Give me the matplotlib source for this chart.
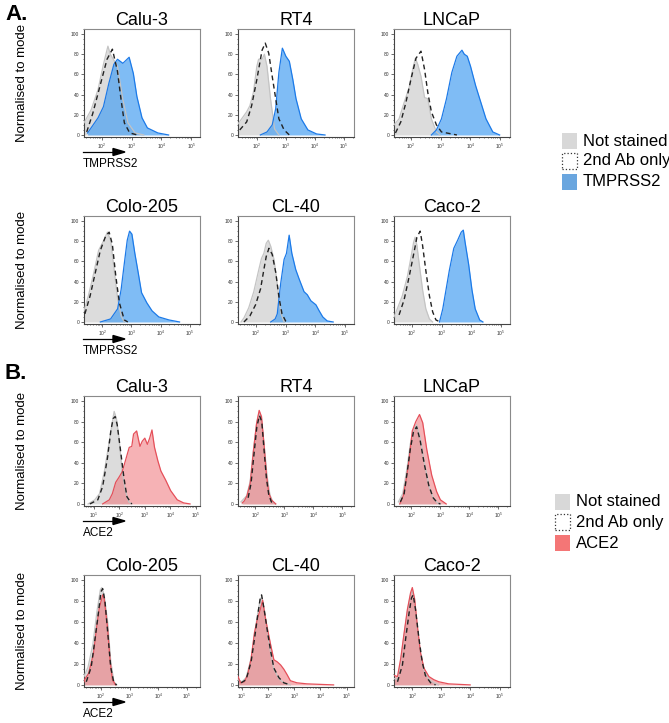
import matplotlib
matplotlib.use("Agg")
import matplotlib.pyplot as plt
import numpy as np
from matplotlib.patches import Rectangle, Polygon
from matplotlib.ticker import LogLocator, MultipleLocator, NullFormatter

plt.rcParams['font.family'] = ['Liberation Sans', 'DejaVu Sans']

# cell lines, same order in both blocks
cells = ["Calu-3", "RT4", "LNCaP", "Colo-205", "CL-40", "Caco-2"]
legend_a = ["Not stained", "2nd Ab only", "TMPRSS2"]
legend_b = ["Not stained", "2nd Ab only", "ACE2"]
yticks = [0, 20, 40, 60, 80, 100]

# x range of each panel, log10 units
xlim_a = [(1.41, 5.29), (1.35, 5.35), (1.43, 5.34), (1.38, 5.35), (1.4, 5.3), (1.4, 5.3)]
xlim_b = [(0.62, 5.16), (1.4, 5.4), (1.4, 5.4), (1.41, 5.45), (0.85, 5.28), (1.37, 5.36)]

# histograms: (log10 intensity, % of mode)
# ---- A. TMPRSS2 ----
calu3_a_ns = [(1.41, 12), (1.65, 25), (1.88, 45), (2.06, 70), (2.21, 88), (2.29, 80), (2.53, 68),
              (2.71, 35), (2.88, 12), (3.12, 2), (3.41, 0)]
calu3_a_2nd = [(1.5, 3), (1.7, 21), (1.94, 48), (2.18, 75), (2.36, 85), (2.53, 63), (2.65, 35),
               (2.76, 12), (2.94, 2), (3.2, 0)]
calu3_a_ab = [(1.53, 2), (1.88, 17), (2.06, 28), (2.24, 51), (2.41, 70), (2.53, 75), (2.71, 71),
              (2.92, 77), (3.06, 61), (3.18, 38), (3.35, 17), (3.53, 7), (3.88, 2), (4.24, 0)]

rt4_a_ns = [(1.35, 11), (1.65, 23), (1.76, 29), (1.88, 42), (2.0, 68), (2.06, 75), (2.18, 75),
            (2.26, 80), (2.35, 68), (2.47, 36), (2.61, 6), (2.76, 0)]
rt4_a_2nd = [(1.41, 5), (1.65, 13), (1.82, 29), (2.0, 55), (2.18, 84), (2.29, 91), (2.41, 81),
             (2.53, 58), (2.65, 36), (2.76, 16), (2.94, 5), (3.12, 0)]
rt4_a_ab = [(2.12, 0), (2.35, 3), (2.53, 10), (2.65, 26), (2.76, 62), (2.88, 86), (3.0, 78),
            (3.12, 73), (3.24, 55), (3.35, 36), (3.53, 16), (3.76, 5), (4.06, 1), (4.35, 0)]

lncap_a_ns = [(1.43, 10), (1.6, 16), (1.77, 32), (1.94, 47), (2.06, 65), (2.15, 76), (2.23, 70),
              (2.34, 58), (2.46, 37), (2.57, 36), (2.69, 16), (2.86, 3), (2.98, 0)]
lncap_a_2nd = [(1.48, 2), (1.66, 13), (1.83, 32), (2.0, 55), (2.17, 76), (2.34, 83), (2.46, 65),
               (2.57, 42), (2.69, 23), (2.86, 10), (3.03, 3), (3.55, 0)]
lncap_a_ab = [(2.69, 0), (2.86, 5), (3.03, 16), (3.2, 36), (3.38, 62), (3.55, 78), (3.72, 84),
              (3.8, 80), (3.9, 78), (4.01, 68), (4.18, 49), (4.36, 32), (4.53, 16), (4.76, 3), (4.99, 0)]

colo_a_ns = [(1.38, 11), (1.53, 26), (1.71, 48), (1.88, 71), (2.06, 81), (2.18, 89), (2.29, 81),
             (2.41, 52), (2.53, 23), (2.65, 6), (2.76, 0)]
colo_a_2nd = [(1.41, 8), (1.59, 26), (1.76, 48), (1.94, 71), (2.12, 85), (2.24, 89), (2.35, 77),
              (2.47, 45), (2.59, 19), (2.76, 2), (2.88, 0)]
colo_a_ab = [(1.94, 0), (2.29, 3), (2.53, 13), (2.65, 32), (2.76, 58), (2.86, 81), (2.94, 90),
             (3.02, 87), (3.12, 68), (3.24, 48), (3.35, 29), (3.53, 19), (3.71, 11), (3.94, 5),
             (4.29, 2), (4.65, 0)]

cl40_a_ns = [(1.5, 0), (1.6, 4), (1.76, 14), (1.93, 30), (2.1, 52), (2.19, 63), (2.27, 68),
             (2.35, 78), (2.42, 81), (2.5, 75), (2.61, 62), (2.72, 37), (2.78, 21), (2.85, 8), (2.95, 0)]
cl40_a_2nd = [(1.6, 0), (1.8, 6), (1.99, 17), (2.16, 33), (2.27, 52), (2.35, 65), (2.44, 73),
              (2.55, 67), (2.67, 49), (2.78, 24), (2.88, 8), (3.0, 1), (3.1, 0)]
cl40_a_ab = [(2.5, 0), (2.65, 3), (2.72, 8), (2.83, 37), (2.95, 62), (3.03, 68), (3.12, 86),
             (3.21, 68), (3.34, 52), (3.45, 43), (3.62, 30), (3.73, 27), (3.85, 21), (4.02, 17),
             (4.13, 11), (4.25, 5), (4.4, 1), (4.6, 0)]

caco2_a_ns = [(1.4, 5), (1.51, 13), (1.68, 26), (1.85, 45), (1.97, 64), (2.06, 79), (2.11, 84),
              (2.17, 76), (2.25, 57), (2.36, 32), (2.47, 13), (2.59, 3), (2.7, 0)]
caco2_a_2nd = [(1.57, 7), (1.74, 22), (1.91, 45), (2.08, 70), (2.17, 84), (2.28, 90), (2.36, 76),
               (2.47, 51), (2.59, 26), (2.7, 10), (2.81, 2), (2.95, 0)]
caco2_a_ab = [(2.93, 0), (3.04, 13), (3.15, 32), (3.26, 51), (3.41, 73), (3.54, 81), (3.66, 89),
              (3.73, 91), (3.79, 79), (3.91, 57), (4.02, 32), (4.13, 13), (4.28, 2), (4.39, 0)]

# ---- B. ACE2 ----
calu3_b_ns = [(0.78, 0), (1.04, 4), (1.23, 10), (1.42, 32), (1.61, 61), (1.73, 80), (1.8, 90),
              (1.89, 83), (1.99, 64), (2.11, 32), (2.24, 13), (2.37, 2), (2.49, 0)]
calu3_b_2nd = [(0.85, 0), (1.16, 4), (1.35, 17), (1.54, 45), (1.67, 71), (1.76, 83), (1.84, 85),
               (1.92, 77), (2.05, 52), (2.18, 26), (2.3, 7), (2.49, 0)]
calu3_b_ab = [(1.35, 0), (1.61, 4), (1.73, 10), (1.86, 21), (1.99, 26), (2.11, 31), (2.24, 42),
              (2.39, 55), (2.49, 56), (2.56, 68), (2.68, 71), (2.81, 56), (2.9, 61), (3.0, 64),
              (3.1, 58), (3.19, 64), (3.28, 72), (3.38, 55), (3.51, 42), (3.63, 32), (3.82, 23),
              (4.01, 13), (4.27, 4), (4.52, 1), (4.77, 0)]

rt4_b_ns = [(1.5, 2), (1.7, 8), (1.82, 22), (1.93, 52), (2.04, 78), (2.12, 88), (2.2, 84),
            (2.3, 58), (2.4, 28), (2.5, 9), (2.6, 2), (2.7, 0)]
rt4_b_2nd = [(1.75, 6), (1.85, 20), (1.95, 48), (2.05, 75), (2.14, 86), (2.22, 80), (2.3, 52),
             (2.38, 25), (2.46, 9), (2.55, 2), (2.65, 0)]
rt4_b_ab = [(1.55, 1), (1.62, 3), (1.71, 8), (1.82, 20), (1.93, 51), (2.04, 78), (2.13, 91),
            (2.21, 85), (2.3, 57), (2.38, 29), (2.46, 11), (2.55, 4), (2.7, 0)]

lncap_b_ns = [(1.55, 2), (1.7, 10), (1.85, 35), (1.96, 58), (2.07, 72), (2.18, 77), (2.3, 65),
              (2.45, 40), (2.6, 18), (2.75, 6), (2.9, 1), (3.0, 0)]
lncap_b_2nd = [(1.62, 2), (1.75, 10), (1.85, 30), (1.96, 53), (2.07, 70), (2.18, 75), (2.3, 62),
               (2.45, 38), (2.6, 18), (2.75, 6), (2.9, 1), (3.0, 0)]
lncap_b_ab = [(1.6, 0), (1.72, 8), (1.81, 22), (1.92, 43), (2.03, 71), (2.15, 80), (2.28, 87),
              (2.39, 79), (2.53, 53), (2.7, 28), (2.87, 12), (3.0, 4), (3.2, 0)]

colo_b_ns = [(1.41, 8), (1.55, 17), (1.72, 39), (1.86, 70), (1.98, 91), (2.03, 93), (2.11, 86),
             (2.23, 61), (2.34, 23), (2.45, 3), (2.55, 0)]
colo_b_2nd = [(1.49, 3), (1.66, 17), (1.77, 39), (1.89, 64), (2.0, 89), (2.06, 92), (2.14, 80),
              (2.23, 52), (2.34, 17), (2.45, 2), (2.55, 0)]
colo_b_ab = [(1.41, 3), (1.43, 5), (1.57, 11), (1.74, 30), (1.85, 55), (1.94, 73), (2.06, 86),
             (2.11, 83), (2.23, 55), (2.32, 23), (2.4, 5), (2.51, 0)]

cl40_b_ns = [(0.85, 5), (1.0, 3), (1.16, 7), (1.35, 25), (1.48, 48), (1.6, 68), (1.7, 82),
             (1.76, 84), (1.85, 72), (1.98, 50), (2.1, 30), (2.22, 15), (2.41, 6), (2.6, 2), (2.85, 0)]
cl40_b_2nd = [(0.97, 2), (1.16, 5), (1.35, 22), (1.48, 44), (1.6, 66), (1.7, 83), (1.75, 86),
              (1.85, 72), (1.98, 50), (2.1, 32), (2.22, 16), (2.41, 7), (2.6, 2), (2.85, 0)]
cl40_b_ab = [(0.85, 8), (0.95, 2), (1.1, 3), (1.22, 10), (1.35, 25), (1.48, 50), (1.6, 64),
             (1.7, 72), (1.79, 81), (1.88, 66), (1.98, 53), (2.1, 38), (2.22, 24), (2.35, 22),
             (2.48, 19), (2.6, 15), (2.72, 10), (2.85, 4), (3.1, 2), (3.48, 1), (4.5, 0)]

caco2_b_ns = [(1.38, 6), (1.49, 5), (1.6, 22), (1.72, 48), (1.83, 70), (1.94, 86), (2.0, 90),
              (2.08, 80), (2.17, 55), (2.28, 30), (2.4, 14), (2.57, 5), (2.74, 2), (2.9, 0)]
caco2_b_2nd = [(1.49, 3), (1.66, 19), (1.77, 44), (1.89, 69), (1.97, 83), (2.03, 86), (2.11, 72),
               (2.23, 44), (2.34, 22), (2.45, 9), (2.63, 2), (2.8, 0)]
caco2_b_ab = [(1.38, 9), (1.49, 8), (1.6, 25), (1.72, 50), (1.83, 72), (1.94, 88), (2.0, 93),
              (2.08, 82), (2.17, 57), (2.28, 31), (2.4, 16), (2.57, 8), (2.74, 5), (2.91, 3),
              (3.25, 1), (3.99, 0)]

panels_a = [(calu3_a_ns, calu3_a_2nd, calu3_a_ab), (rt4_a_ns, rt4_a_2nd, rt4_a_ab),
            (lncap_a_ns, lncap_a_2nd, lncap_a_ab), (colo_a_ns, colo_a_2nd, colo_a_ab),
            (cl40_a_ns, cl40_a_2nd, cl40_a_ab), (caco2_a_ns, caco2_a_2nd, caco2_a_ab)]
panels_b = [(calu3_b_ns, calu3_b_2nd, calu3_b_ab), (rt4_b_ns, rt4_b_2nd, rt4_b_ab),
            (lncap_b_ns, lncap_b_2nd, lncap_b_ab), (colo_b_ns, colo_b_2nd, colo_b_ab),
            (cl40_b_ns, cl40_b_2nd, cl40_b_ab), (caco2_b_ns, caco2_b_2nd, caco2_b_ab)]

W, H = 669, 723
GRAY_FACE, GRAY_EDGE = '#dcdcdc', '#c4c4c4'
BLUE_FACE, BLUE_EDGE = '#4ea2f2', '#1c7ae8'
RED_FACE, RED_EDGE = '#f07379', '#e5505a'

fig = plt.figure(figsize=(W / 100, H / 100), dpi=100)

col_left = [84, 238, 394]
col_w = 116
row_box = [(29, 137), (216, 324), (396, 506), (575, 687)]


def px_axes(x0, top, bottom):
    return fig.add_axes([x0 / W, 1 - bottom / H, col_w / W, (bottom - top) / H])


def draw_hist(ax, pts, face, edge, alpha):
    x = 10 ** np.array([p[0] for p in pts])
    y = np.array([p[1] for p in pts])
    ax.fill_between(x, y, 0, color=face, alpha=alpha, lw=0, zorder=2)
    ax.plot(x, y, color=edge, lw=0.9, zorder=3)


def style_axes(ax, lim):
    ax.set_xscale('log')
    ax.set_xlim(10 ** lim[0], 10 ** lim[1])
    ax.set_ylim(-2, 105)
    ax.set_yticks(yticks)
    ax.yaxis.set_minor_locator(MultipleLocator(5))
    ax.xaxis.set_major_locator(LogLocator(base=10))
    ax.xaxis.set_minor_locator(LogLocator(base=10, subs=np.arange(2, 10)))
    ax.xaxis.set_minor_formatter(NullFormatter())
    ax.tick_params(which='major', length=2, width=0.5, labelsize=3.5, pad=1.5, colors='#333333')
    ax.tick_params(which='minor', length=1, width=0.4)
    for s in ax.spines.values():
        s.set_color('#8a8a8a')
        s.set_linewidth(0.8)
    ax.spines['left'].set_color('#444444')
    ax.spines['bottom'].set_color('#444444')


def draw_block(panels, lims, first_row, face, edge, alpha, marker):
    for i, (ns, sec, ab) in enumerate(panels):
        top, bottom = row_box[first_row + i // 3]
        ax = px_axes(col_left[i % 3], top, bottom)
        draw_hist(ax, ns, GRAY_FACE, GRAY_EDGE, 1.0)
        draw_hist(ax, ab, face, edge, alpha)
        ax.plot(10 ** np.array([p[0] for p in sec]), [p[1] for p in sec],
                color='#222222', lw=1.0, ls=(0, (3.5, 2.5)), zorder=4)
        style_axes(ax, lims[i])
        ax.set_title(cells[i], fontsize=13, pad=3)
    for r in range(2):
        top, bottom = row_box[first_row + r]
        fig.text(22 / W, 1 - (top + bottom) / 2 / H, "Normalised to mode", rotation=90,
                 ha='center', va='center', fontsize=9.5)
        # axis arrow under the first panel of the row
        ya = 1 - (bottom + 15) / H
        fig.add_artist(plt.Line2D([83 / W, 113 / W], [ya, ya], color='black', lw=0.9))
        fig.patches.append(Polygon([[113 / W, ya + 3.5 / H], [125 / W, ya], [113 / W, ya - 3.5 / H]],
                                   closed=True, color='black', transform=fig.transFigure, figure=fig))
        fig.text(83 / W, 1 - (bottom + 27) / H, marker, ha='left', va='center', fontsize=8.5)


draw_block(panels_a, xlim_a, 0, BLUE_FACE, BLUE_EDGE, 0.72, "TMPRSS2")
draw_block(panels_b, xlim_b, 2, RED_FACE, RED_EDGE, 0.55, "ACE2")

fig.text(5 / W, 1 - 15 / H, "A.", fontsize=16, fontweight='bold', ha='left', va='center')
fig.text(5 / W, 1 - 373 / H, "B.", fontsize=16, fontweight='bold', ha='left', va='center')


def draw_legend(labels, x0, ys, third):
    colors = [('#d8d8d8', 'none', '-'), ('white', '#333333', ':'), third]
    for lab, yc, (fc, ec, ls) in zip(labels, ys, colors):
        fig.patches.append(Rectangle((x0 / W, 1 - (yc + 8) / H), 15 / W, 16 / H,
                                     facecolor=fc, edgecolor=ec, linestyle=ls, lw=0.9,
                                     transform=fig.transFigure, figure=fig))
        fig.text((x0 + 21) / W, 1 - yc / H, lab, fontsize=12, ha='left', va='center')


draw_legend(legend_a, 562, [141, 161, 182], ('#6aa6df', 'none', '-'))
draw_legend(legend_b, 555, [502, 522, 543], ('#f47676', 'none', '-'))

fig.savefig("out.png", dpi=100)
